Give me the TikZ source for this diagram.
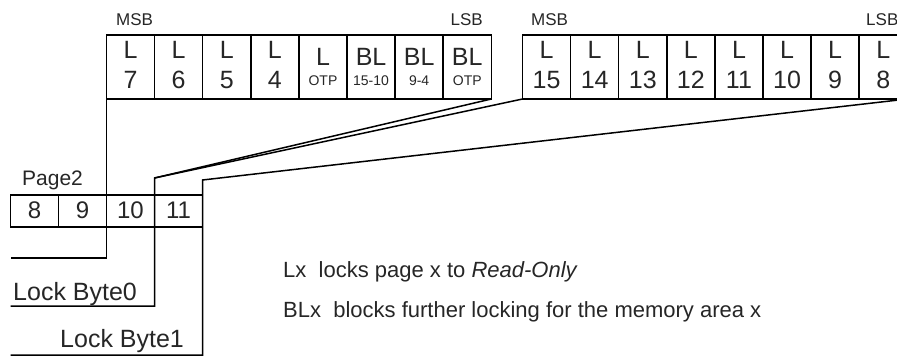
\documentclass[tikz,border=0pt]{standalone}
\usepackage{fontspec}
\setmainfont{Liberation Sans}
\begin{document}
\begin{tikzpicture}[x=1pt,y=-1pt,
  wire/.style={line width=1.5pt, line join=miter},
  cell/.style={draw, line width=1.5pt, anchor=north west, outer sep=0pt,
    minimum width=48.1pt, minimum height=64pt, inner sep=0pt},
  pcell/.style={draw, line width=1.5pt, anchor=north west, outer sep=0pt,
    minimum width=48pt, minimum height=32pt, inner sep=0pt},
  big/.style={font=\fontsize{25}{25}\selectfont, anchor=base, inner sep=0pt, text=black!85},
  small/.style={font=\fontsize{14}{14}\selectfont, anchor=base, inner sep=0pt, text=black!85},
  tag/.style={font=\fontsize{17}{17}\selectfont, inner sep=0pt, text=black!85},
  lbl/.style={font=\fontsize{25}{25}\selectfont, anchor=base west, inner sep=0pt, text=black!85},
  note/.style={font=\fontsize{22}{22}\selectfont, anchor=base west, inner sep=0pt, text=black!85}]
\useasboundingbox (0,0) rectangle (897,356);
\clip (0,0) rectangle (897,356);

% Lock Byte0: bits 7..0
\foreach \lt/\bt [count=\i from 0] in {L/7, L/6, L/5, L/4} {
  \node[cell] (a\i) at (106.5+48.1*\i,35) {};
  \node[big] (a\i u) at (130.55+48.1*\i,58) {\lt};
  \node[big] (a\i d) at (130.55+48.1*\i,88.5) {\bt};
}
\foreach \lt/\bt [count=\i from 4] in {L/OTP, BL/15-10, BL/9-4, BL/OTP} {
  \node[cell] (a\i) at (106.5+48.1*\i,35) {};
  \node[big] (a\i u) at (130.55+48.1*\i,65) {\lt};
  \node[small] (a\i d) at (130.55+48.1*\i,85.5) {\bt};
}

% Lock Byte1: bits 7..0
\foreach \bt [count=\i from 0] in {15,14,13,12,11,10,9,8} {
  \node[cell] (b\i) at (522.5+48.1*\i,35) {};
  \node[big] (b\i u) at (546.55+48.1*\i,58) {L};
  \node[big] (b\i d) at (546.55+48.1*\i,88.5) {\bt};
}

% bit order tags
\node[tag, anchor=base west] (msb0) at (116,25) {MSB};
\node[tag, anchor=base east] (lsb0) at (483,25) {LSB};
\node[tag, anchor=base west] (msb1) at (531,25) {MSB};
\node[tag, anchor=base west] (lsb1) at (866,25) {LSB};

% Page 2 bytes
\node[font=\fontsize{21}{21}\selectfont, anchor=base west, inner sep=0pt, text=black!85] (pg) at (22,185) {Page2};
\foreach \n/\x in {8/10.5, 9/58.5, 10/106.5, 11/154.5} {
  \node[pcell] (p\n) at (\x,195) {};
  \node[font=\fontsize{24}{24}\selectfont, anchor=base, inner sep=0pt, text=black!85] (p\n t) at (\x+24,218) {\n};
}

% connectors
\coordinate (k0top) at (154.5,178);
\coordinate (k1top) at (202.5,180);
\coordinate (e0) at (10.5,258);
\coordinate (e1) at (10.5,306);
\coordinate (e2) at (10.5,355);

\draw[wire] (a0.south west) -- (a0.south west |- e0) -- (e0);
\draw[wire] (a7.south east) -- (k0top) -- (k0top |- e1) -- (e1);
\draw[wire] (b0.south west) -- (k0top);
\draw[wire] (b7.south east) -- (k1top) -- (k1top |- e2) -- (e2);

\node[lbl] (lb0) at (13,300) {Lock Byte0};
\node[lbl] (lb1) at (60,347) {Lock Byte1};

% legend
\node[note] (n1) at (283,277) {Lx~~locks page x to \textit{Read-Only}};
\node[note] (n2) at (283,317) {BLx~~blocks further locking for the memory area x};
\end{tikzpicture}
\end{document}
